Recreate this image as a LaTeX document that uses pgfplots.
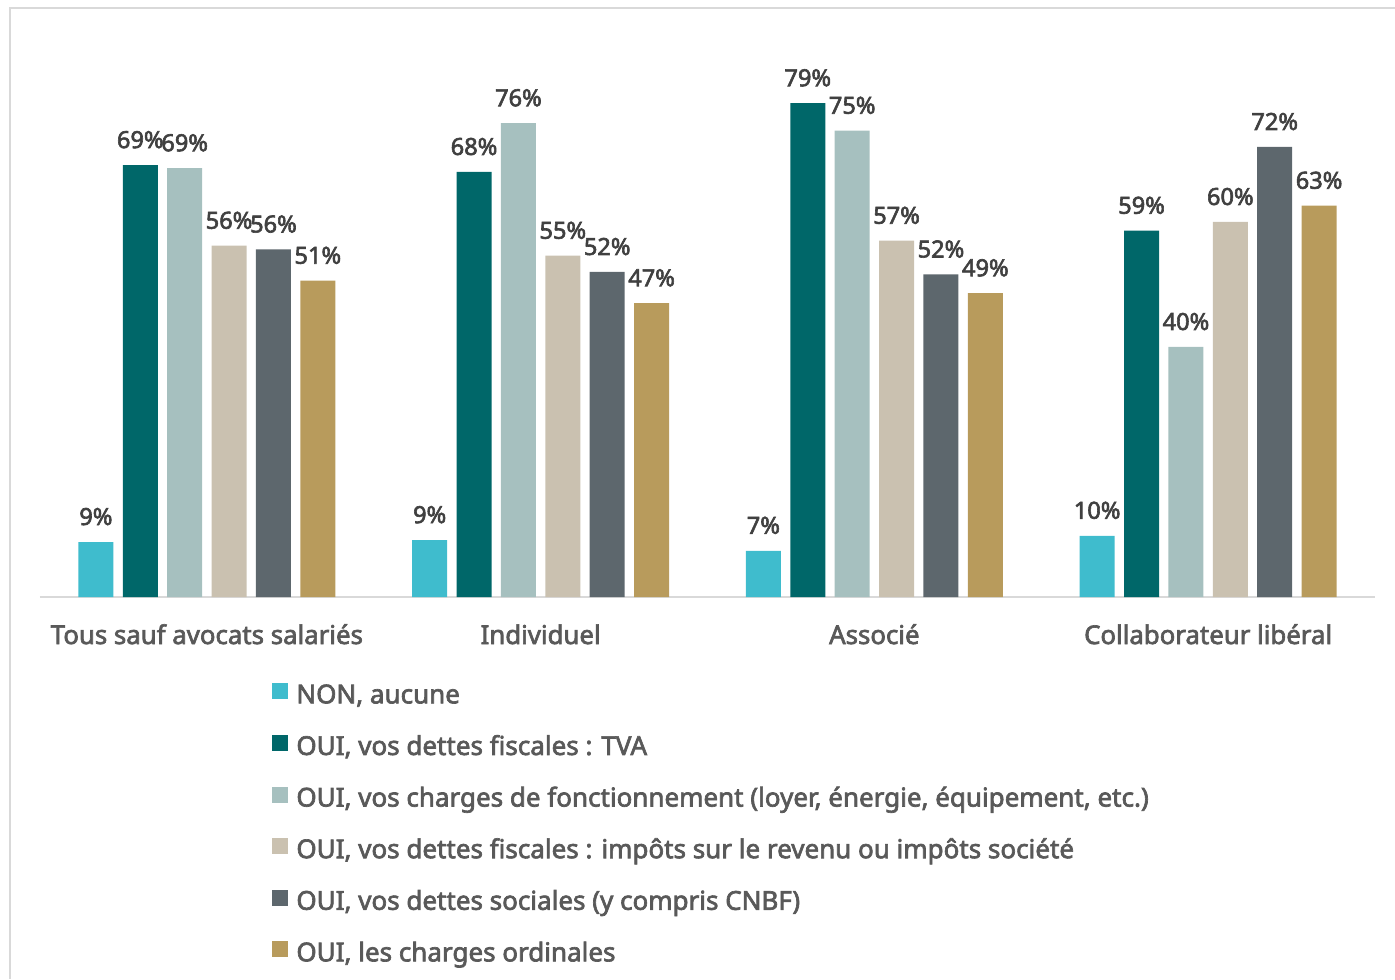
\documentclass[border=0pt]{standalone}
\usepackage{fontspec}
\setmainfont{Noto Sans}[AutoFakeBold=2.6]
\usepackage{pgfplots}
\pgfplotsset{compat=1.18}
\definecolor{cNon}{HTML}{3FBCCD}
\definecolor{cTva}{HTML}{006769}
\definecolor{cFon}{HTML}{A6C0BF}
\definecolor{cImp}{HTML}{CAC1B0}
\definecolor{cSoc}{HTML}{5D676D}
\definecolor{cOrd}{HTML}{B89B5C}
\definecolor{labc}{HTML}{404040}
\definecolor{catc}{HTML}{595959}
\definecolor{linec}{HTML}{D9D9D9}
\begin{document}
\begin{tikzpicture}
\begin{axis}[
  scale only axis, width=667.5pt, height=287.5pt,
  xmin=-0.5, xmax=3.5, ymin=0, ymax=92,
  clip=false,
  axis y line=none,
  axis x line*=bottom,
  x axis line style={draw=linec, line width=0.8pt, -},
  xtick={0,1,2,3},
  xticklabels={Tous sauf avocats salariés, Individuel, Associé, Collaborateur libéral},
  xtick style={draw=none}, major tick length=0pt,
  xticklabel style={anchor=base, yshift=-23.5pt, text=catc, font=\fontsize{12.9}{15}\selectfont\bfseries, inner sep=0pt},
  ytick=\empty,
  ybar, bar width=0.105,
  /pgf/number format/assume math mode=true,
  /pgf/number format/fixed, /pgf/number format/precision=0,
  nodes near coords={\pgfmathprintnumber{\pgfplotspointmeta}\%},
  nodes near coords style={font=\fontsize{11.8}{13}\selectfont\bfseries, text=labc, anchor=base, inner sep=0pt, yshift=8.5pt},
  legend style={at={(0.1738,-0.1495)}, anchor=north west, draw=none, fill=none, inner sep=0pt,
    font=\fontsize{13}{15}\selectfont\bfseries, text=catc, row sep=12.8pt,
    nodes={inner sep=0pt, text height=9pt, text depth=3pt}},
  legend cell align=left,
  legend image code/.code={\fill[#1] (0pt,-1pt) rectangle (8pt,7pt); \path (12pt,0pt);},
]
\addplot[fill=cNon, draw=none, bar shift=-0.3325] coordinates {(0,8.8) (1,9.1) (2,7.4) (3,9.8)};
\addlegendentry{NON, aucune}
\addplot[fill=cTva, draw=none, bar shift=-0.1995] coordinates {(0,69.1) (1,68.0) (2,79.0) (3,58.6)};
\addlegendentry{OUI, vos dettes fiscales : TVA}
\addplot[fill=cFon, draw=none, bar shift=-0.0665] coordinates {(0,68.6) (1,75.8) (2,74.6) (3,40.0)};
\addlegendentry{OUI, vos charges de fonctionnement (loyer, énergie, équipement, etc.)}
\addplot[fill=cImp, draw=none, bar shift=0.0665] coordinates {(0,56.2) (1,54.6) (2,57.0) (3,60.0)};
\addlegendentry{OUI, vos dettes fiscales : impôts sur le revenu ou impôts société}
\addplot[fill=cSoc, draw=none, bar shift=0.1995] coordinates {(0,55.6) (1,52.0) (2,51.6) (3,72.0)};
\addlegendentry{OUI, vos dettes sociales (y compris CNBF)}
\addplot[fill=cOrd, draw=none, bar shift=0.3325] coordinates {(0,50.6) (1,47.0) (2,48.6) (3,62.6)};
\addlegendentry{OUI, les charges ordinales}
\coordinate (bl) at (rel axis cs:-0.02996,-0.66435);
\coordinate (tr) at (rel axis cs:1.01498,1.03826);
\coordinate (fc) at (rel axis cs:-0.02247,1.02435);
\end{axis}
\draw[linec, line width=1pt] (bl -| fc) -- (fc) -- (fc -| tr);
\pgfresetboundingbox
\useasboundingbox (bl) rectangle (tr);
\end{tikzpicture}
\end{document}
